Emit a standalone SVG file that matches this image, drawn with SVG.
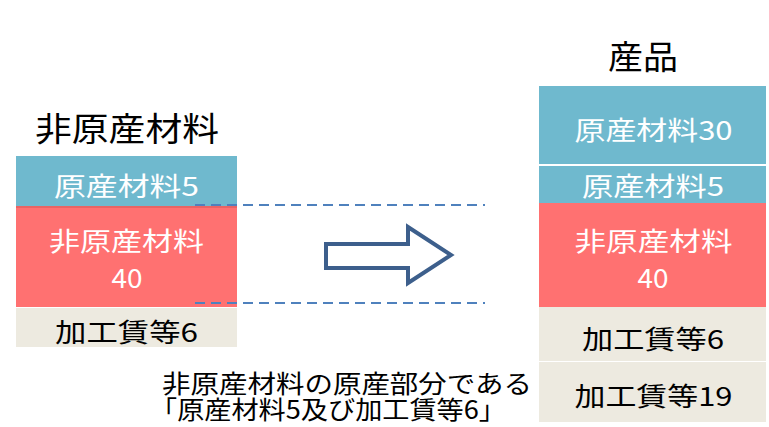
<svg xmlns="http://www.w3.org/2000/svg" width="769" height="427" viewBox="0 0 769 427">
<defs>
<style>
text{font-family:"Noto Sans CJK JP","Noto Sans CJK SC",sans-serif;}
.t{font-size:33px;fill:#000;}
.w{font-size:26px;fill:#fff;text-anchor:middle;}
.k{font-size:26px;fill:#000;text-anchor:middle;}
.n{font-size:25px;fill:#000;}
.blue{fill:#6fb9ce;}
.red{fill:#ff7171;}
.beige{fill:#edeae0;}
.dash{stroke:#4f81bd;stroke-width:2;stroke-dasharray:10 6;fill:none;}
</style>
</defs>
<rect width="769" height="427" fill="#fff"/>
<g id="left-title"><text class="t" x="35" y="141" textLength="184" lengthAdjust="spacingAndGlyphs">非原産材料</text></g>
<g id="left-origin"><rect class="blue" x="16" y="156" width="221" height="50"/><text class="w" x="126.5" y="196" textLength="145" lengthAdjust="spacingAndGlyphs">原産材料5</text></g>
<g id="left-nonorigin"><rect class="red" x="16" y="206" width="221" height="101"/><rect x="16" y="206" width="221" height="2" fill="#e86464"/><text class="w" x="126.5" y="251" textLength="155" lengthAdjust="spacingAndGlyphs">非原産材料</text><text class="w" x="127" y="288" textLength="31" lengthAdjust="spacingAndGlyphs">40</text></g>
<g id="left-labor"><rect class="beige" x="16" y="308" width="221" height="39"/><text class="k" x="126.5" y="342" textLength="143" lengthAdjust="spacingAndGlyphs">加工賃等6</text></g>
<g id="right-title"><text class="t" x="643" y="69" text-anchor="middle" textLength="70" lengthAdjust="spacingAndGlyphs">産品</text></g>
<g id="right-origin30"><rect class="blue" x="539" y="86" width="227" height="78"/><text class="w" x="653.5" y="140" textLength="158" lengthAdjust="spacingAndGlyphs">原産材料30</text></g>
<g id="right-origin5"><rect class="blue" x="539" y="166" width="227" height="37"/><text class="w" x="653" y="196" textLength="142" lengthAdjust="spacingAndGlyphs">原産材料5</text></g>
<g id="right-nonorigin"><rect class="red" x="539" y="203" width="227" height="104"/><text class="w" x="653.5" y="251" textLength="158" lengthAdjust="spacingAndGlyphs">非原産材料</text><text class="w" x="653" y="288" textLength="31" lengthAdjust="spacingAndGlyphs">40</text></g>
<g id="right-labor6"><rect class="beige" x="539" y="307" width="227" height="54"/><text class="k" x="653" y="349" textLength="142" lengthAdjust="spacingAndGlyphs">加工賃等6</text></g>
<g id="right-labor19"><rect class="beige" x="539" y="362" width="227" height="60"/><text class="k" x="653.5" y="406" textLength="158" lengthAdjust="spacingAndGlyphs">加工賃等19</text></g>
<g id="connectors">
<line class="dash" x1="195" y1="205" x2="485" y2="205"/>
<line class="dash" x1="195" y1="303" x2="485" y2="303"/>
<path d="M326 244 L408 244 L408 227 L451 255 L408 283 L408 268 L326 268 Z" fill="#fff" stroke="#3d5f8c" stroke-width="4" stroke-linejoin="miter"/>
</g>
<g id="note">
<text class="n" x="162" y="393" textLength="370" lengthAdjust="spacingAndGlyphs">非原産材料の原産部分である</text>
<text class="n" x="150" y="419" textLength="356" lengthAdjust="spacingAndGlyphs">「原産材料5及び加工賃等6」</text>
</g>
</svg>
